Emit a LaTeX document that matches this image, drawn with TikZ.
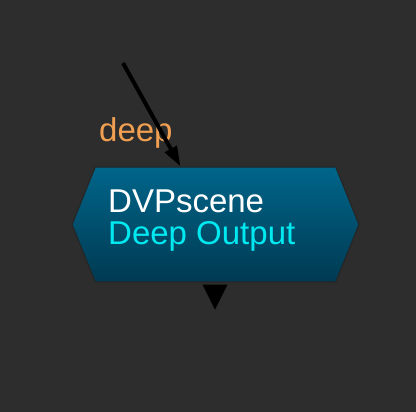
\documentclass[tikz,border=0pt]{standalone}
\usepackage{fontspec}
\setmainfont{Liberation Sans}
\usetikzlibrary{shapes.symbols, arrows.meta, positioning}
\definecolor{bgdark}{HTML}{2D2D2D}
\definecolor{nodetop}{HTML}{00658A}
\definecolor{nodebot}{HTML}{003A52}
\definecolor{inlabel}{HTML}{F0A050}
\definecolor{typecyan}{HTML}{00E8F0}
\tikzset{
  dvpnode/.style={signal, signal to=east and west, signal pointer angle=136,
    minimum width=287pt, minimum height=115pt, inner sep=0pt,
    draw=black!85, line width=1.2pt, top color=nodetop, bottom color=nodebot},
  nodetext/.style={font=\fontsize{33}{32}\selectfont, align=left, inner sep=0pt},
  wire/.style={line width=4pt, -{Triangle[length=20pt, width=13pt]}},
}
\begin{document}
\begin{tikzpicture}[x=1pt, y=-1pt]
  \fill[bgdark] (0,0) rectangle (416,412);
  \useasboundingbox (0,0) rectangle (416,412);
  \node[dvpnode] (dvp) at (215.5,224.5) {};
  \node[nodetext, anchor=base west] (name) at (108,213) {\color{white}DVPscene};
  \node[nodetext, anchor=base west, below=8pt of name.south west, anchor=north west] (kind) {\color{typecyan}Deep Output};
  \node[nodetext, text=inlabel, anchor=base west] (port) at (99,142) {deep};
  \coordinate (src) at (123,63);
  \draw[wire] (src) -- ([xshift=-35pt]dvp.north);
  % output
  \fill[black] ([xshift=-13pt,yshift=-2pt]dvp.south) -- ++(25pt,0) -- ++(-12.5pt,-25pt) -- cycle;
\end{tikzpicture}
\end{document}
